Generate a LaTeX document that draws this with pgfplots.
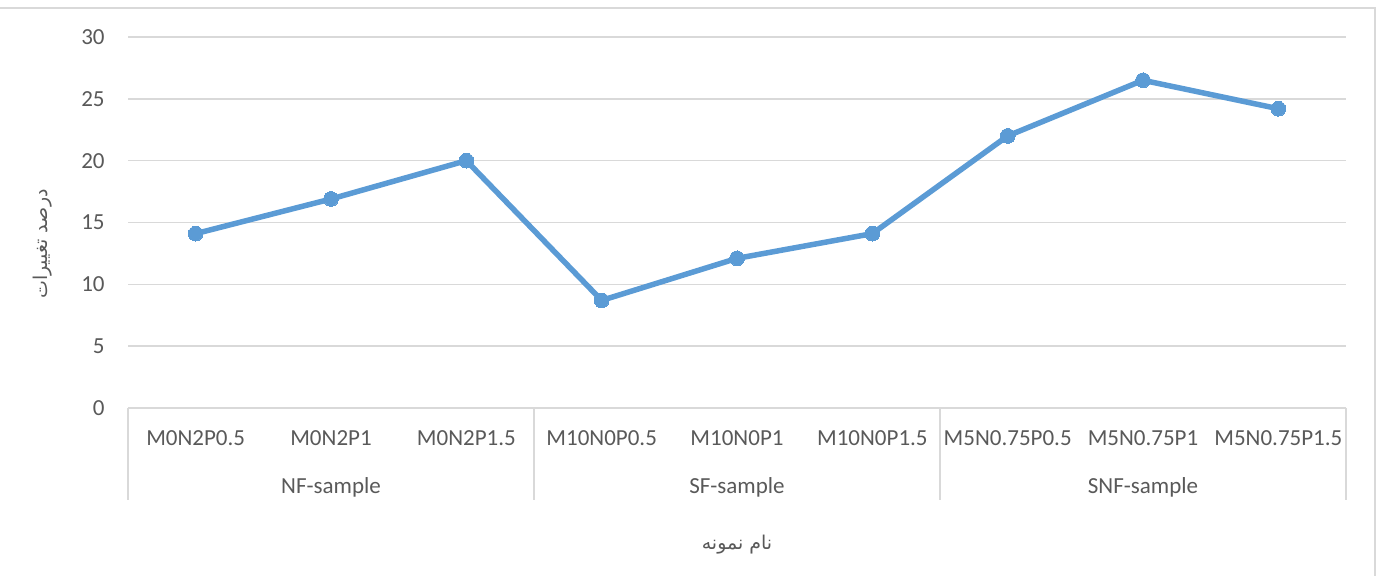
\documentclass[border=0pt]{standalone}
\usepackage{pgfplots}
\pgfplotsset{compat=1.18}
\usepackage{fontspec}
\setmainfont{Carlito}
\newfontfamily\farsi[Script=Arabic]{DejaVu Sans}
\TeXXeTstate=1
\definecolor{linec}{HTML}{5B9BD5}
\definecolor{gridc}{HTML}{D9D9D9}
\definecolor{txt}{HTML}{595959}

\begin{document}
\begin{tikzpicture}
% chart frame, 1px = 0.5pt
\path[use as bounding box] (0,0) rectangle (689.5pt,288pt);
\draw[gridc, line width=0.75pt] (0,284pt) -- (687.5pt,284pt) -- (687.5pt,0);
\begin{axis}[
  at={(64pt,84pt)}, anchor=south west, scale only axis,
  width=609pt, height=185.5pt,
  xmin=0.5, xmax=9.5,
  ymin=0, ymax=30, ytick={0,5,...,30},
  xtick={1,...,9},
  xticklabels={M0N2P0.5,M0N2P1,M0N2P1.5,M10N0P0.5,M10N0P1,M10N0P1.5,M5N0.75P0.5,M5N0.75P1,M5N0.75P1.5},
  major tick length=0pt,
  axis line style={draw=none},
  ymajorgrids, grid style={gridc, line width=0.75pt},
  /pgf/number format/assume math mode=true,
  ticklabel style={font=\fontsize{11.5}{13}\selectfont, text=txt},
  xticklabel style={anchor=center, yshift=-15pt},
  yticklabel style={anchor=east, inner sep=0pt, xshift=-11.5pt},
  clip=false,
]
\addplot[linec, line width=2.75pt, mark=*, mark size=3.7pt,
  mark options={fill=linec, draw=linec, line width=0pt}]
  coordinates {
    (1,14.1) (2,16.9) (3,20.0)
    (4,8.7) (5,12.1) (6,14.1)
    (7,22.0) (8,26.5) (9,24.2)
  };
% category group separators
\draw[gridc, line width=0.75pt] (axis cs:0.5,0) -- ([yshift=-46pt]axis cs:0.5,0);
\draw[gridc, line width=0.75pt] (axis cs:3.5,0) -- ([yshift=-46pt]axis cs:3.5,0);
\draw[gridc, line width=0.75pt] (axis cs:6.5,0) -- ([yshift=-46pt]axis cs:6.5,0);
\draw[gridc, line width=0.75pt] (axis cs:9.5,0) -- ([yshift=-46pt]axis cs:9.5,0);
% group names
\node[txt, font=\fontsize{11.5}{13}\selectfont] at ([yshift=-39.5pt]axis cs:2,0) {NF-sample};
\node[txt, font=\fontsize{11.5}{13}\selectfont] at ([yshift=-39.5pt]axis cs:5,0) {SF-sample};
\node[txt, font=\fontsize{11.5}{13}\selectfont] at ([yshift=-39.5pt]axis cs:8,0) {SNF-sample};
% axis titles
\node[txt, font=\farsi\fontsize{9.5}{11}\selectfont] at ([yshift=-68.5pt]axis cs:5,0) {\beginR نام نمونه\endR};
\node[txt, font=\farsi\fontsize{9.5}{11}\selectfont, rotate=90] at ([xshift=-42.5pt, yshift=82pt]rel axis cs:0,0) {\beginR درصد تغییرات\endR};
\end{axis}
\end{tikzpicture}
\end{document}
